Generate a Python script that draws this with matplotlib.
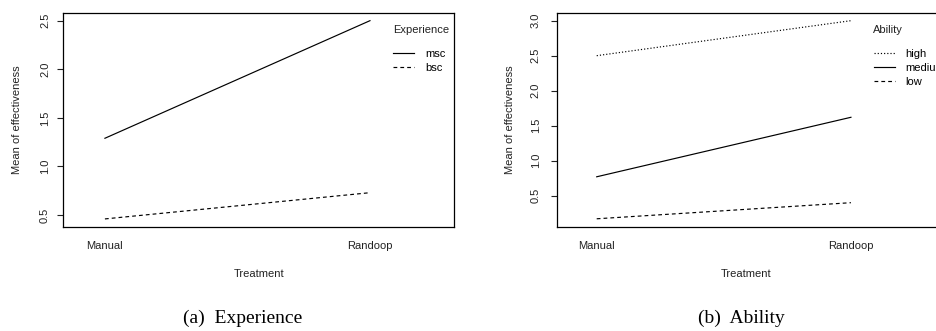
import numpy as np
import matplotlib
matplotlib.use("Agg")
import matplotlib.pyplot as plt

plt.rcParams['font.family'] = ['Liberation Sans', 'DejaVu Sans']

# ---- data ----
treatment = ["Manual", "Randoop"]
exp_levels = ["msc", "bsc"]
exp_msc = [1.29, 2.50]
exp_bsc = [0.46, 0.73]
abil_levels = ["high", "medium", "low"]
abil_high = [2.50, 3.00]
abil_medium = [0.77, 1.62]
abil_low = [0.17, 0.40]
exp_yticks = [0.5, 1.0, 1.5, 2.0, 2.5]
abil_yticks = [0.5, 1.0, 1.5, 2.0, 2.5, 3.0]

W, H = 936, 331
fig = plt.figure(figsize=(W / 100, H / 100), dpi=100)


def fx(px):
    return px / W


def fy(py):
    return 1 - py / H


x = np.arange(1, len(treatment) + 1)

SOLID = '-'
DASHED = (0, (3.2, 2.6))
DOTTED = (0, (1.0, 1.7))
LW = 0.85
FS = 8


def style_axes(ax, xlim, ylim, yticks, ypad):
    ax.set_xlim(*xlim)
    ax.set_ylim(*ylim)
    ax.set_xticks(x)
    ax.set_xticklabels(treatment, fontsize=FS)
    ax.set_yticks(yticks)
    ax.set_yticklabels([f"{v:.1f}" for v in yticks], fontsize=FS)
    ax.tick_params(axis='x', length=0, pad=10.5, colors='#222222')
    ax.tick_params(axis='y', length=4.5, width=0.8, pad=ypad, labelrotation=90, colors='#222222')
    for lab in ax.get_yticklabels():
        lab.set_va('center')
    for sp in ax.spines.values():
        sp.set_linewidth(0.9)
    ax.set_xlabel("Treatment", fontsize=FS, color='#222222')
    ax.set_ylabel("Mean of effectiveness", fontsize=FS, color='#222222')
    ax.xaxis.label.set_va('center')
    ax.yaxis.label.set_va('center')
    return ax


# ---- left panel ----
axL = fig.add_axes([fx(63.3), fy(226.7), fx(454 - 63.3), (226.7 - 12.7) / H])
axL.plot(x, exp_msc, color='black', lw=LW, linestyle=SOLID, label=exp_levels[0])
axL.plot(x, exp_bsc, color='black', lw=LW, linestyle=DASHED, label=exp_levels[1])
style_axes(axL, (0.843, 2.317), (0.38, 2.582), exp_yticks, 5.0)
axL.yaxis.set_label_coords(-46.3 / 390.7, 0.5)
axL.xaxis.set_label_coords(0.5, -(274 - 226.7) / 214)

fig.text(fx(393.3), fy(30), "Experience", fontsize=FS, ha='left', va='center', color='#222222')
legL = axL.legend(loc='upper left', bbox_to_anchor=(fx(393.3), fy(49)),
                  bbox_transform=fig.transFigure, frameon=False, fontsize=FS,
                  handlelength=1.9, handletextpad=0.95, labelspacing=0.36,
                  borderpad=0, borderaxespad=0)

# ---- right panel ----
axR = fig.add_axes([fx(557.3), fy(226.7), fx(945 - 557.3), (226.7 - 12.7) / H])
axR.plot(x, abil_high, color='black', lw=LW, linestyle=DOTTED, label=abil_levels[0])
axR.plot(x, abil_medium, color='black', lw=LW, linestyle=SOLID, label=abil_levels[1])
axR.plot(x, abil_low, color='black', lw=LW, linestyle=DASHED, label=abil_levels[2])
style_axes(axR, (0.845, 2.37), (0.057, 3.114), abil_yticks, 7.5)
axR.yaxis.set_label_coords((510 - 557.3) / 387.7, 0.5)
axR.xaxis.set_label_coords((746 - 557.3) / 387.7, -(274 - 226.7) / 214)

fig.text(fx(873.3), fy(30), "Ability", fontsize=FS, ha='left', va='center', color='#222222')
legR = axR.legend(loc='upper left', bbox_to_anchor=(fx(874), fy(49)),
                  bbox_transform=fig.transFigure, frameon=False, fontsize=FS,
                  handlelength=1.9, handletextpad=0.95, labelspacing=0.36,
                  borderpad=0, borderaxespad=0)

# ---- captions ----
fig.text(fx(242.5), fy(318), "(a)  Experience", fontsize=14, ha='center', va='center',
         family=['Liberation Serif', 'DejaVu Serif'])
fig.text(fx(741.5), fy(318), "(b)  Ability", fontsize=14, ha='center', va='center',
         family=['Liberation Serif', 'DejaVu Serif'])

fig.savefig("out.png", dpi=100)
